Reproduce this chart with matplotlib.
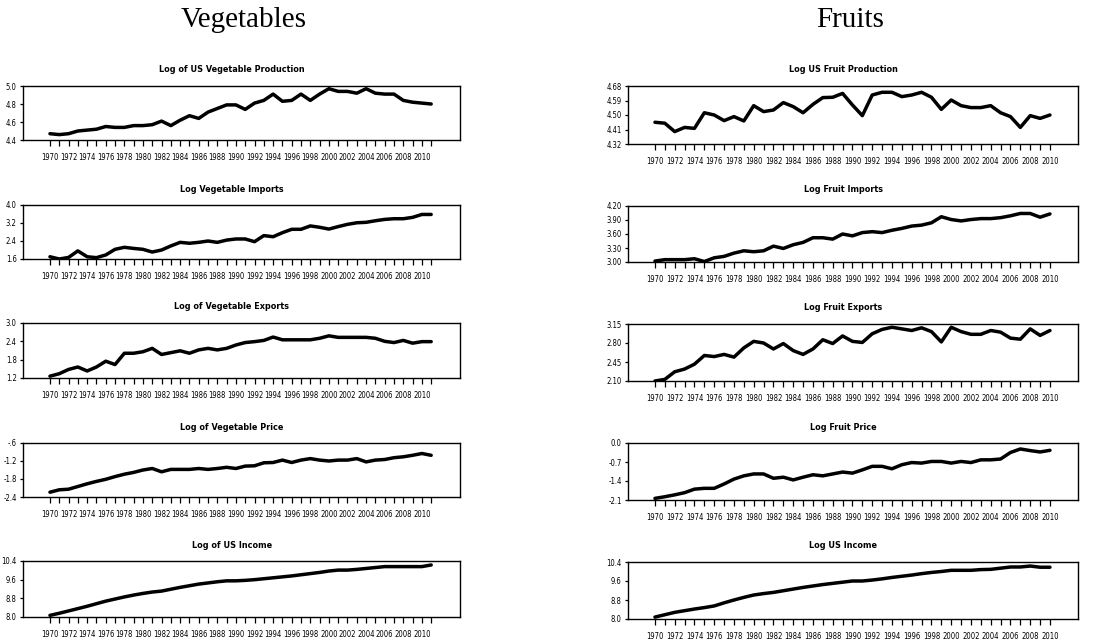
import matplotlib
matplotlib.use("Agg")
import matplotlib.pyplot as plt
from matplotlib.ticker import FixedLocator, FixedFormatter

NARROW = ['DejaVu Sans']

years_veg = list(range(1970, 2012))
years_fruit = list(range(1970, 2011))

veg_production = [4.47, 4.46, 4.47, 4.50, 4.51, 4.52, 4.55, 4.54, 4.54, 4.56,
                  4.56, 4.57, 4.61, 4.56, 4.62, 4.67, 4.64, 4.71, 4.75, 4.79,
                  4.79, 4.74, 4.81, 4.84, 4.91, 4.83, 4.84, 4.91, 4.84, 4.91,
                  4.97, 4.94, 4.94, 4.92, 4.97, 4.92, 4.91, 4.91, 4.84, 4.82,
                  4.81, 4.80]
veg_imports = [1.70, 1.60, 1.67, 1.96, 1.70, 1.66, 1.78, 2.03, 2.12, 2.07,
               2.03, 1.91, 2.00, 2.18, 2.34, 2.30, 2.34, 2.40, 2.34, 2.44,
               2.49, 2.49, 2.37, 2.64, 2.59, 2.77, 2.92, 2.92, 3.07, 3.01,
               2.93, 3.04, 3.14, 3.21, 3.23, 3.30, 3.36, 3.39, 3.39, 3.45,
               3.58, 3.58]
veg_exports = [1.26, 1.34, 1.48, 1.56, 1.43, 1.56, 1.75, 1.64, 2.01, 2.01,
               2.06, 2.17, 1.97, 2.03, 2.09, 2.01, 2.12, 2.17, 2.12, 2.17,
               2.28, 2.36, 2.39, 2.43, 2.54, 2.45, 2.45, 2.45, 2.45, 2.50,
               2.58, 2.53, 2.53, 2.53, 2.53, 2.50, 2.40, 2.36, 2.43, 2.34,
               2.39, 2.39]
veg_price = [-2.24, -2.16, -2.14, -2.05, -1.96, -1.88, -1.81, -1.72, -1.64, -1.58,
             -1.50, -1.45, -1.56, -1.48, -1.48, -1.48, -1.45, -1.48, -1.45, -1.41,
             -1.45, -1.37, -1.36, -1.26, -1.25, -1.17, -1.25, -1.17, -1.12, -1.17,
             -1.20, -1.17, -1.17, -1.12, -1.23, -1.17, -1.15, -1.09, -1.06, -1.01,
             -0.95, -1.01]
veg_income = [8.07, 8.16, 8.26, 8.36, 8.46, 8.57, 8.68, 8.77, 8.86, 8.94,
              9.01, 9.07, 9.11, 9.19, 9.27, 9.34, 9.41, 9.46, 9.51, 9.55,
              9.55, 9.57, 9.60, 9.64, 9.68, 9.72, 9.76, 9.81, 9.86, 9.91,
              9.97, 10.01, 10.01, 10.04, 10.08, 10.12, 10.16, 10.16, 10.16, 10.16,
              10.16, 10.23]

fruit_production = [4.455, 4.449, 4.397, 4.423, 4.417, 4.514, 4.500, 4.465, 4.490, 4.463,
                    4.558, 4.521, 4.531, 4.577, 4.552, 4.514, 4.566, 4.608, 4.610, 4.634,
                    4.562, 4.496, 4.624, 4.641, 4.641, 4.614, 4.624, 4.641, 4.610, 4.535,
                    4.593, 4.558, 4.546, 4.546, 4.558, 4.514, 4.490, 4.423, 4.496, 4.479,
                    4.500]
fruit_imports = [3.02, 3.05, 3.05, 3.05, 3.07, 3.01, 3.09, 3.12, 3.19, 3.24,
                 3.22, 3.24, 3.34, 3.29, 3.37, 3.42, 3.52, 3.52, 3.49, 3.60,
                 3.56, 3.63, 3.65, 3.63, 3.68, 3.72, 3.77, 3.79, 3.84, 3.97,
                 3.91, 3.88, 3.91, 3.93, 3.93, 3.95, 3.99, 4.04, 4.04, 3.96,
                 4.03]
fruit_exports = [2.10, 2.13, 2.27, 2.32, 2.41, 2.57, 2.55, 2.59, 2.54, 2.71,
                 2.83, 2.80, 2.69, 2.79, 2.66, 2.59, 2.69, 2.86, 2.79, 2.93,
                 2.83, 2.81, 2.97, 3.05, 3.09, 3.06, 3.03, 3.08, 3.01, 2.82,
                 3.09, 3.01, 2.96, 2.96, 3.03, 3.00, 2.89, 2.87, 3.06, 2.94,
                 3.03]
fruit_price = [-2.04, -1.98, -1.91, -1.83, -1.70, -1.67, -1.67, -1.51, -1.33, -1.21,
               -1.14, -1.14, -1.30, -1.26, -1.36, -1.26, -1.17, -1.21, -1.14, -1.07,
               -1.11, -0.99, -0.86, -0.86, -0.95, -0.80, -0.72, -0.74, -0.68, -0.68,
               -0.74, -0.68, -0.72, -0.62, -0.62, -0.59, -0.35, -0.22, -0.28, -0.33,
               -0.27]
fruit_income = [8.08, 8.18, 8.28, 8.35, 8.42, 8.48, 8.55, 8.68, 8.80, 8.91,
                9.01, 9.07, 9.12, 9.19, 9.26, 9.33, 9.39, 9.45, 9.50, 9.55,
                9.60, 9.60, 9.64, 9.69, 9.75, 9.80, 9.85, 9.91, 9.96, 10.00,
                10.05, 10.05, 10.05, 10.08, 10.09, 10.14, 10.19, 10.19, 10.23, 10.18,
                10.18]

veg_titles = ["Log of US Vegetable Production", "Log Vegetable Imports",
              "Log of Vegetable Exports", "Log of Vegetable Price", "Log of US Income"]
fruit_titles = ["Log US Fruit Production", "Log Fruit Imports",
                "Log Fruit Exports", "Log Fruit Price", "Log US Income"]

veg_yticks = [[4.4, 4.6, 4.8, 5.0], [1.6, 2.4, 3.2, 4.0], [1.2, 1.8, 2.4, 3.0],
              [-2.4, -1.8, -1.2, -0.6], [8.0, 8.8, 9.6, 10.4]]
veg_ylabels = [["4.4", "4.6", "4.8", "5.0"], ["1.6", "2.4", "3.2", "4.0"],
               ["1.2", "1.8", "2.4", "3.0"], ["-2.4", "-1.8", "-1.2", "-.6"],
               ["8.0", "8.8", "9.6", "10.4"]]
fruit_yticks = [[4.32, 4.41, 4.50, 4.59, 4.68], [3.00, 3.30, 3.60, 3.90, 4.20],
                [2.10, 2.45, 2.80, 3.15], [-2.1, -1.4, -0.7, 0.0], [8.0, 8.8, 9.6, 10.4]]
fruit_ylabels = [["4.32", "4.41", "4.50", "4.59", "4.68"],
                 ["3.00", "3.30", "3.60", "3.90", "4.20"],
                 ["2.10", "2.45", "2.80", "3.15"], ["-2.1", "-1.4", "-0.7", "0.0"],
                 ["8.0", "8.8", "9.6", "10.4"]]

veg_series = [veg_production, veg_imports, veg_exports, veg_price, veg_income]
fruit_series = [fruit_production, fruit_imports, fruit_exports, fruit_price, fruit_income]

W, H = 1120, 642
fig = plt.figure(figsize=(W / 100, H / 100), dpi=100)

left_rows = [(86, 140), (205, 259), (323, 378), (443, 497), (561, 617)]
right_rows = [(86, 144), (206, 262), (324, 381), (443, 500), (562, 619)]
left_x = (23, 460)
right_x = (628, 1078)


def make_panel(xpx, ypx, years, vals, title, yt, yl, xlim):
    x0, x1 = xpx
    t, b = ypx
    ax = fig.add_axes([x0 / W, 1 - b / H, (x1 - x0) / W, (b - t) / H])
    ax.plot(years, vals, color='black', lw=2.5, solid_joinstyle='round',
            solid_capstyle='round')
    ax.set_xlim(*xlim)
    ax.set_ylim(yt[0], yt[-1])
    ax.xaxis.set_major_locator(FixedLocator(list(range(years[0], years[-1] + 1, 2))))
    ax.xaxis.set_minor_locator(FixedLocator(list(range(years[0], years[-1] + 1))))
    ax.yaxis.set_major_locator(FixedLocator(yt))
    ax.yaxis.set_major_formatter(FixedFormatter(yl))
    ax.tick_params(axis='x', which='both', direction='out', length=4, width=0.9,
                   pad=5.5, labelsize=5.5)
    ax.tick_params(axis='y', which='major', direction='out', length=2.5, width=0.9,
                   pad=2, labelsize=5.5)
    for lab in ax.get_xticklabels() + ax.get_yticklabels():
        lab.set_family(NARROW)
        lab.set_stretch('condensed')
    for sp in ax.spines.values():
        sp.set_linewidth(1.0)
    ax.text(0.478, 1.0 + 16 / (b - t), title, transform=ax.transAxes,
            ha='center', va='center', fontsize=6.5, fontweight='bold', family=NARROW,
            fontstretch='condensed')
    return ax


for i in range(5):
    make_panel(left_x, left_rows[i], years_veg, veg_series[i], veg_titles[i],
               veg_yticks[i], veg_ylabels[i], (1967.1, 2014.1))
    make_panel(right_x, right_rows[i], years_fruit, fruit_series[i], fruit_titles[i],
               fruit_yticks[i], fruit_ylabels[i], (1967.27, 2012.84))

fig.text(244 / W, 1 - 20 / H, "Vegetables", ha='center', va='center', fontsize=21,
         family=['Liberation Serif', 'DejaVu Serif'])
fig.text(850 / W, 1 - 20 / H, "Fruits", ha='center', va='center', fontsize=21,
         family=['Liberation Serif', 'DejaVu Serif'])

fig.savefig("out.png", dpi=100, facecolor='white')
